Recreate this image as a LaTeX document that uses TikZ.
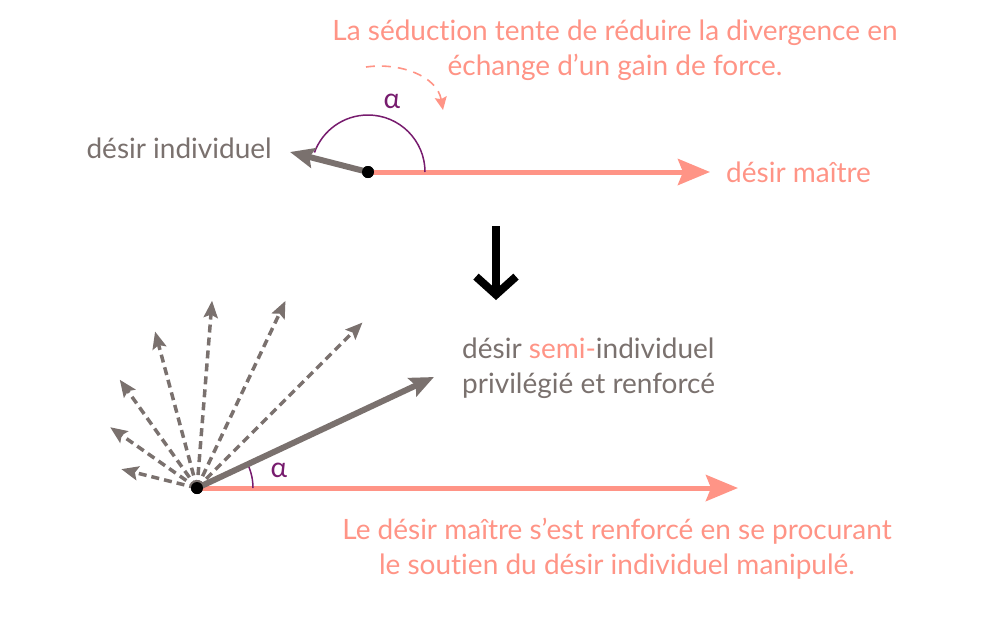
\documentclass[tikz,border=0pt]{standalone}
\usepackage{fontspec}
\setmainfont{Lato}[Ligatures={NoCommon}]
\usetikzlibrary{arrows.meta,calc}
\definecolor{salmon}{HTML}{FF9486}
\definecolor{warmgray}{HTML}{7A716E}
\definecolor{plum}{HTML}{771C6E}
\tikzset{
  txt/.style={font=\fontsize{28}{35}\selectfont, inner sep=0pt},
  dot/.style={circle, fill=black, minimum size=12pt, inner sep=0pt},
  master/.style={salmon, line width=5pt, -{Stealth[length=32pt,width=26pt,inset=5pt]}},
  indiv/.style={warmgray, line width=6pt, -{Stealth[length=24pt,width=20pt,inset=4pt]}},
  ghost/.style={warmgray, line width=3.5pt, dash pattern=on 8pt off 5pt, -{Stealth[length=17pt,width=14pt,inset=3pt]}},
  anglearc/.style={plum, line width=1.5pt},
}
\begin{document}
\begin{tikzpicture}[x=1pt,y=-1pt]
\useasboundingbox (0,0) rectangle (1000,630);
% ---------- top ----------
\node[txt, salmon, align=center] (topnote) at (615,50) {La séduction tente de réduire la divergence en\\échange d’un gain de force.};
\node[dot] (o1) at (368,172) {};
\coordinate (m1) at (710,172);
\coordinate (i1) at (290,152);
\draw[master] (o1.center) -- (m1);
\draw[anglearc] (425,172) arc[start angle=0, end angle=-160, radius=57];
\draw[indiv] (o1.center) -- (i1);
\node[dot] at (368,172) {};
\node[txt, plum] (a1) at (392,101) {α};
\node[txt, warmgray, anchor=east] (l1) at (272,148) {désir individuel};
\node[txt, salmon, anchor=west] (l2) at (726,172) {désir maître};
\coordinate (d1) at (366,67);
\coordinate (d2) at (443,110);
\draw[salmon, line width=1.6pt, dash pattern=on 9pt off 7pt, -{Stealth[length=13pt,width=12pt,inset=2pt]}] (d1) to[out=8, in=100] (d2);
% ---------- down arrow ----------
\coordinate (s1) at (496,226);
\coordinate (s2) at (496,300);
\draw[black, line width=8pt, -{Straight Barb[length=18pt,width=40pt]}] (s1) -- (s2);
% ---------- bottom ----------
\node[dot] (o2) at (197,488) {};
\coordinate (m2) at (738,488);
\draw[master] (o2.center) -- (m2);
\foreach \ang/\len [count=\k] in {166/78, 145/106, 125.5/133, 105/162, 85.4/188, 64.7/207, 45/234} {
  \coordinate (g\k) at ($(o2.center)+(\ang:\len pt)$);
}
\foreach \k in {1,...,7} \draw[ghost] (o2.center) -- (g\k);
\draw[anglearc] (253,488) arc[start angle=0, end angle=-25, radius=56];
\coordinate (i2) at (434,377);
\draw[indiv] (o2.center) -- (i2);
\node[dot] at (197,488) {};
\node[txt, plum] (a2) at (279,470) {α};
\node[txt, warmgray, align=left, anchor=north west] (l3) at (462,338) {désir \textcolor{salmon}{semi-}individuel\\privilégié et renforcé};
\node[txt, salmon, align=center] (botnote) at (617,549) {Le désir maître s’est renforcé en se procurant\\le soutien du désir individuel manipulé.};
\end{tikzpicture}
\end{document}
